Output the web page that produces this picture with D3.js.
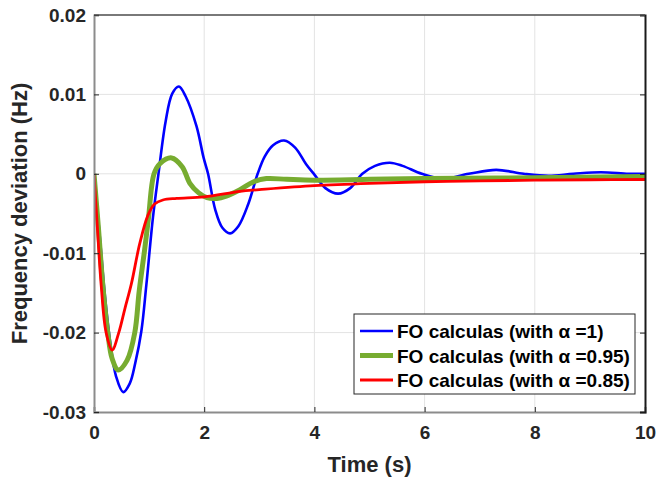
<!DOCTYPE html>
<html>
<head>
<meta charset="utf-8">
<script src="https://cdn.jsdelivr.net/npm/d3@7"></script>
<style>
    body { margin: 0; background: #fff; }
    text { font-family: "Liberation Sans", Arial, sans-serif; font-weight: bold; }
</style>
</head>
<body>
<div id="chart"></div>
<script>
// series (time in s, deviation in Hz)
const tBlue = [0, 0.1, 0.2, 0.3, 0.4, 0.53, 0.65, 0.75, 0.86, 0.95, 1.07, 1.17, 1.3, 1.42, 1.54, 1.66, 1.86, 1.99, 2.07, 2.2, 2.33, 2.47, 2.62, 2.8, 2.97, 3.1, 3.25, 3.45, 3.65, 3.85, 4.0, 4.2, 4.43, 4.65, 4.87, 5.1, 5.37, 5.6, 5.95, 6.33, 6.8, 7.3, 7.8, 8.25, 8.7, 9.2, 9.7, 10]
const yBlue = [0, -0.0075, -0.0155, -0.0215, -0.0255, -0.0275, -0.0264, -0.0238, -0.0198, -0.0140, -0.0055, 0, 0.0066, 0.0101, 0.0110, 0.0098, 0.0060, 0.0020, 0, -0.0045, -0.0068, -0.0075, -0.0066, -0.0038, 0, 0.0022, 0.0036, 0.0042, 0.0033, 0.0012, -0.0001, -0.0018, -0.0025, -0.0018, 0, 0.0010, 0.0014, 0.0010, 0, -0.0006, 0, 0.0005, 0, -0.00025, 0, 0.0002, 0, 0]

const tGreen = [0, 0.08, 0.16, 0.25, 0.33, 0.44, 0.6, 0.74, 0.82, 0.92, 0.99, 1.09, 1.2, 1.41, 1.6, 1.74, 1.9, 2.05, 2.23, 2.4, 2.65, 2.9, 3.13, 3.5, 4.0, 5, 6, 8, 10]
const yGreen = [0, -0.0068, -0.0140, -0.0200, -0.0233, -0.0247, -0.0235, -0.0200, -0.0148, -0.0095, -0.0055, 0, 0.0013, 0.0020, 0.0009, -0.0012, -0.0024, -0.0030, -0.0031, -0.0028, -0.0020, -0.0010, -0.0006, -0.0007, -0.0008, -0.0007, -0.0006, -0.0005, -0.00035]

const tRed = [0, 0.05, 0.13, 0.22, 0.33, 0.45, 0.56, 0.68, 0.83, 0.98, 1.1, 1.25, 1.5, 2.0, 2.65, 3, 4, 5, 6, 7, 8, 9, 10]
const yRed = [0, -0.0055, -0.0140, -0.0200, -0.0222, -0.0200, -0.0170, -0.0138, -0.0088, -0.0052, -0.0038, -0.0033, -0.0031, -0.0029, -0.0022, -0.0020, -0.0015, -0.0012, -0.0010, -0.0009, -0.0008, -0.00075, -0.00072]

const seriesNames = ["FO calculas (with \u03b1 =1)", "FO calculas (with \u03b1 =0.95)", "FO calculas (with \u03b1 =0.85)"]
const seriesColors = ["#0000ff", "#77ac30", "#ff0000"]
const seriesWidths = [2.6, 5, 2.8]

const xTicks = [0, 2, 4, 6, 8, 10]
const yTicks = [-0.03, -0.02, -0.01, 0, 0.01, 0.02]

// plot box
const boxLeft = 94, boxRight = 645, boxTop = 15, boxBottom = 412

const svg = d3.select("#chart")
    .append("svg")
    .attr("width", 657)
    .attr("height", 480)

const x = d3.scaleLinear().domain([0, 10]).range([boxLeft, boxRight])
const y = d3.scaleLinear().domain([-0.03, 0.02]).range([boxBottom, boxTop])

// grid
svg.append("g")
    .selectAll("line")
    .data(xTicks.slice(1, -1))
    .join("line")
    .attr("x1", d => x(d)).attr("x2", d => x(d))
    .attr("y1", boxTop).attr("y2", boxBottom)
    .attr("stroke", "#e3e3e3").attr("stroke-width", 1)
svg.append("g")
    .selectAll("line")
    .data(yTicks.slice(1, -1))
    .join("line")
    .attr("x1", boxLeft).attr("x2", boxRight)
    .attr("y1", d => y(d)).attr("y2", d => y(d))
    .attr("stroke", "#e3e3e3").attr("stroke-width", 1)

// curves
svg.append("clipPath").attr("id", "plotClip")
    .append("rect")
    .attr("x", boxLeft).attr("y", boxTop)
    .attr("width", boxRight - boxLeft).attr("height", boxBottom - boxTop)

const series = [
    {t: tBlue, v: yBlue},
    {t: tGreen, v: yGreen},
    {t: tRed, v: yRed}
]
const line = d3.line()
    .x(d => x(d[0]))
    .y(d => y(d[1]))
    .curve(d3.curveCatmullRom.alpha(0.5))

series.forEach((s, i) => {
    svg.append("path")
        .datum(s.t.map((t, j) => [t, s.v[j]]))
        .attr("clip-path", "url(#plotClip)")
        .attr("fill", "none")
        .attr("stroke", seriesColors[i])
        .attr("stroke-width", seriesWidths[i])
        .attr("stroke-linejoin", "round")
        .attr("d", line)
})

// axes
const xAxis = svg.append("g")
    .attr("transform", `translate(0, ${boxBottom})`)
    .call(d3.axisBottom(x).tickValues(xTicks).tickSize(-5).tickPadding(14).tickFormat(d3.format("d")))
xAxis.select(".domain").attr("stroke", "#8c8c8c").attr("stroke-width", 2)
xAxis.selectAll(".tick line").attr("stroke", "#262626")
xAxis.selectAll("text").style("font-size", "19px").attr("fill", "#262626")

const yAxis = svg.append("g")
    .attr("transform", `translate(${boxLeft}, 0)`)
    .call(d3.axisLeft(y).tickValues(yTicks).tickSize(-5).tickPadding(8)
        .tickFormat(d => d === 0 ? "0" : d.toFixed(2)))
yAxis.select(".domain").attr("stroke", "#8c8c8c").attr("stroke-width", 2)
yAxis.selectAll(".tick line").attr("stroke", "#262626")
yAxis.selectAll("text").style("font-size", "19px").attr("fill", "#262626")

const rAxis = svg.append("g")
    .attr("transform", `translate(${boxRight}, 0)`)
    .call(d3.axisRight(y).tickValues(yTicks).tickSize(-5).tickFormat(""))
rAxis.select(".domain").attr("stroke", "#1a1a1a").attr("stroke-width", 2)
rAxis.selectAll(".tick line").attr("stroke", "#1a1a1a")

svg.append("line")
    .attr("x1", boxLeft).attr("x2", boxRight)
    .attr("y1", boxTop).attr("y2", boxTop)
    .attr("stroke", "#4d4d4d").attr("stroke-width", 1.5)

// axis titles
svg.append("text")
    .attr("x", (boxLeft + boxRight) / 2)
    .attr("y", 472)
    .attr("text-anchor", "middle")
    .style("font-size", "22px")
    .attr("fill", "#262626")
    .text("Time (s)")

svg.append("text")
    .attr("transform", `translate(27, ${(boxTop + boxBottom) / 2}) rotate(-90)`)
    .attr("text-anchor", "middle")
    .style("font-size", "22px")
    .attr("fill", "#262626")
    .text("Frequency deviation (Hz)")

// legend
const legend = svg.append("g")
legend.append("rect")
    .attr("x", 354).attr("y", 314)
    .attr("width", 281).attr("height", 80)
    .attr("fill", "#fff")
    .attr("stroke", "#262626").attr("stroke-width", 1)

seriesNames.forEach((name, i) => {
    const ly = 331 + i * 24.5
    legend.append("line")
        .attr("x1", 360).attr("x2", 393)
        .attr("y1", ly).attr("y2", ly)
        .attr("stroke", seriesColors[i])
        .attr("stroke-width", seriesWidths[i])
    legend.append("text")
        .attr("x", 397)
        .attr("y", ly + 7)
        .style("font-size", "19px")
        .attr("fill", "#000")
        .text(name)
})
</script>
</body>
</html>
